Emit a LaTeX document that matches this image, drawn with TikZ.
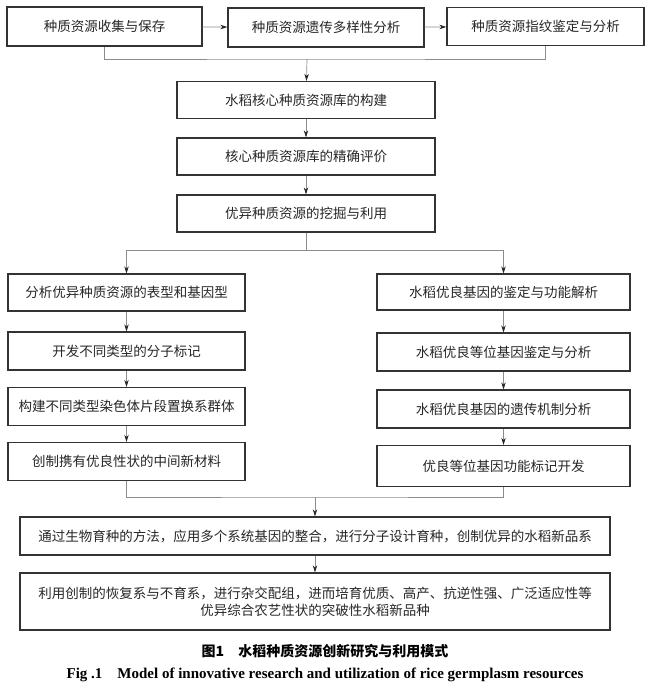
\documentclass[tikz,border=0pt]{standalone}
\usepackage{fontspec}
\setmainfont{Liberation Serif}
\newfontfamily\cjk{Noto Sans CJK SC}
\usepackage{tikz}
\usetikzlibrary{arrows.meta, positioning}

\begin{document}
\begin{tikzpicture}[x=1pt, y=-1pt,
		box/.style = {draw=black!80, line width=1.3pt, inner sep=2pt, text=black!85,
			font=\cjk\fontsize{13.5}{17}\selectfont, align=center},
		link/.style = {draw=black!45, line width=0.7pt},
		arr/.style = {link, -{Stealth[length=7pt, width=4.5pt, black!85]}}]
				\useasboundingbox (0,0) rectangle (650,691);
				% first row
				\node [box, minimum width=195pt, minimum height=39pt] (collect) at (104.5,26.5) {种质资源收集与保存};
				\node [box, minimum width=196pt, minimum height=39pt] (divers) at (326,27.5) {种质资源遗传多样性分析};
				\node [box, minimum width=197pt, minimum height=38pt] (finger) at (545.5,26.5) {种质资源指纹鉴定与分析};
				\draw [arr] (collect) -- (divers);
				\draw [arr] (divers) -- (finger);
				% core collection
				\node [box, minimum width=258pt, minimum height=37pt] (core) at (306,100) {水稻核心种质资源库的构建};
				\node [box, minimum width=258pt, minimum height=37pt] (evalu) at (306,156.5) {核心种质资源库的精确评价};
				\node [box, minimum width=258pt, minimum height=37pt] (mine) at (306,213.5) {优异种质资源的挖掘与利用};
				\coordinate (join1) at (307,59);
				\draw [link] (collect.south) |- (join1) -| (finger.south);
				\draw [arr] (join1) -- (core);
				\draw [arr] (core) -- (evalu);
				\draw [arr] (evalu) -- (mine);
				% left column
				\node [box, minimum width=237pt, minimum height=37pt] (pheno) at (126.5,292.5) {分析优异种质资源的表型和基因型};
				\node [box, minimum width=237pt, minimum height=38pt] (marker) at (126.5,351) {开发不同类型的分子标记};
				\node [box, minimum width=237pt, minimum height=38pt] (csss) at (126.5,406.5) {构建不同类型染色体片段置换系群体};
				\node [box, minimum width=237pt, minimum height=38pt] (newmat) at (126.5,461.5) {创制携有优良性状的中间新材料};
				% right column
				\node [box, minimum width=253pt, minimum height=36pt] (gene) at (503.5,292) {水稻优良基因的鉴定与功能解析};
				\node [box, minimum width=253pt, minimum height=38pt] (allele) at (503.5,352) {水稻优良等位基因鉴定与分析};
				\node [box, minimum width=253pt, minimum height=38pt] (mech) at (503.5,409) {水稻优良基因的遗传机制分析};
				\node [box, minimum width=253pt, minimum height=41pt] (funcm) at (503.5,466) {优良等位基因功能标记开发};
				\coordinate (split) at (306,250);
				\draw [link] (mine) -- (split);
				\draw [arr] (split) -| (pheno.north);
				\draw [arr] (split) -| (gene.north);
				\draw [arr] (pheno) -- (marker);
				\draw [arr] (marker) -- (csss);
				\draw [arr] (csss) -- (newmat);
				\draw [arr] (gene) -- (allele);
				\draw [arr] (allele) -- (mech);
				\draw [arr] (mech) -- (funcm);
				% breeding
				\node [box, minimum width=590pt, minimum height=38pt] (design) at (315,536) {通过生物育种的方法，应用多个系统基因的整合，进行分子设计育种，创制优异的水稻新品系};
				\node [box, minimum width=590pt, minimum height=57pt] (variety) at (315,601.5) {利用创制的恢复系与不育系，进行杂交配组，进而培育优质、高产、抗逆性强、广泛适应性等\\优异综合农艺性状的突破性水稻新品种};
				\coordinate (join2) at (315,497);
				\draw [link] (newmat.south) |- (join2) -| (funcm.south);
				\draw [arr] (join2) -- (design);
				\draw [arr] (design) -- (variety);
				% caption
				\node [font=\cjk\bfseries\fontsize{14}{16}\selectfont] (capcn) at (325,651) {图1\quad 水稻种质资源创新研究与利用模式};
				\node [font=\bfseries\fontsize{15}{17}\selectfont] (capen) at (325,675) {Fig .1\quad Model of innovative research and utilization of rice germplasm resources};
			\end{tikzpicture}
\end{document}
